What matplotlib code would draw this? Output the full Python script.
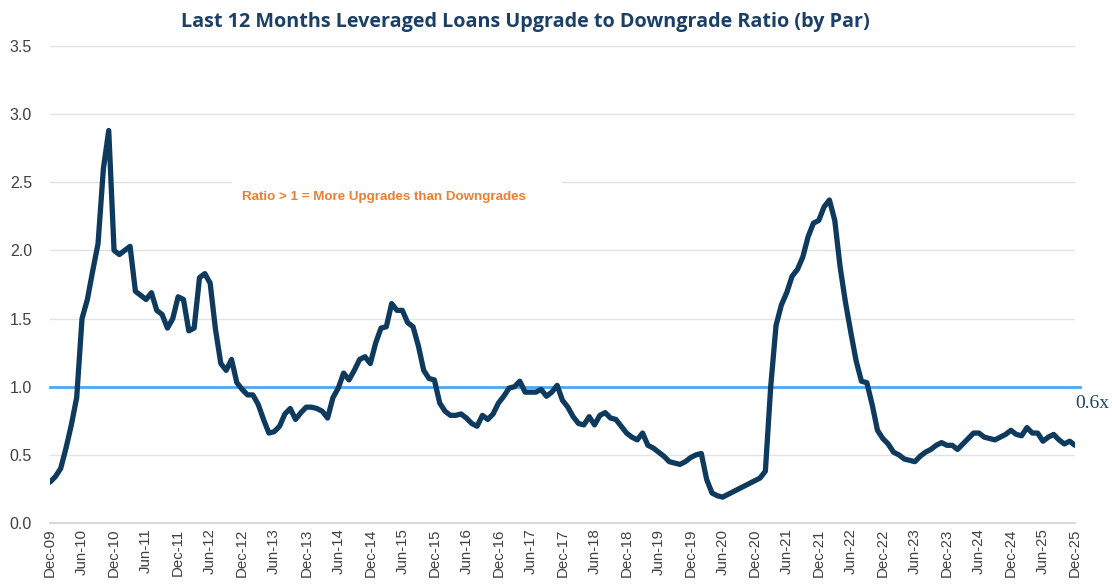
import matplotlib
matplotlib.use("Agg")
import matplotlib.pyplot as plt
from matplotlib.patches import Rectangle
import numpy as np

# Monthly ratio, Dec-09 .. Dec-25
ratio = [
    0.30, 0.34, 0.40, 0.55, 0.72, 0.92, 1.50, 1.64, 1.85, 2.05,   # Dec-09 .. Sep-10
    2.60, 2.88, 2.00, 1.97, 2.00, 2.03, 1.70, 1.67, 1.64, 1.69,   # Oct-10 .. Jul-11
    1.56, 1.53, 1.43, 1.50, 1.66, 1.64, 1.41, 1.43, 1.80, 1.83,   # Aug-11 .. May-12
    1.76, 1.42, 1.17, 1.12, 1.20, 1.03, 0.98, 0.94, 0.94, 0.87,   # Jun-12 .. Mar-13
    0.76, 0.66, 0.67, 0.71, 0.80, 0.84, 0.76, 0.81, 0.85, 0.85,   # Apr-13 .. Jan-14
    0.84, 0.82, 0.77, 0.92, 0.99, 1.10, 1.05, 1.12, 1.20, 1.22,   # Feb-14 .. Nov-14
    1.17, 1.32, 1.43, 1.44, 1.61, 1.56, 1.56, 1.47, 1.44, 1.30,   # Dec-14 .. Sep-15
    1.12, 1.06, 1.05, 0.88, 0.82, 0.79, 0.79, 0.80, 0.77, 0.73,   # Oct-15 .. Jul-16
    0.71, 0.79, 0.76, 0.80, 0.88, 0.93, 0.99, 1.00, 1.04, 0.96,   # Aug-16 .. May-17
    0.96, 0.96, 0.98, 0.93, 0.96, 1.01, 0.90, 0.85, 0.78, 0.73,   # Jun-17 .. Mar-18
    0.72, 0.78, 0.72, 0.79, 0.81, 0.77, 0.76, 0.71, 0.66, 0.63,   # Apr-18 .. Jan-19
    0.61, 0.66, 0.57, 0.55, 0.52, 0.49, 0.45, 0.44, 0.43, 0.45,   # Feb-19 .. Nov-19
    0.48, 0.50, 0.51, 0.32, 0.22, 0.20, 0.19, 0.21, 0.23, 0.25,   # Dec-19 .. Sep-20
    0.27, 0.29, 0.31, 0.33, 0.38, 1.00, 1.45, 1.60, 1.69, 1.81,   # Oct-20 .. Jul-21
    1.86, 1.95, 2.10, 2.20, 2.22, 2.32, 2.37, 2.22, 1.88, 1.62,   # Aug-21 .. May-22
    1.40, 1.19, 1.04, 1.03, 0.87, 0.68, 0.62, 0.58, 0.52, 0.50,   # Jun-22 .. Mar-23
    0.47, 0.46, 0.45, 0.49, 0.52, 0.54, 0.57, 0.59, 0.57, 0.57,   # Apr-23 .. Jan-24
    0.54, 0.58, 0.62, 0.66, 0.66, 0.63, 0.62, 0.61, 0.63, 0.65,   # Feb-24 .. Nov-24
    0.68, 0.65, 0.64, 0.70, 0.66, 0.66, 0.60, 0.63, 0.65, 0.61,   # Dec-24 .. Sep-25
    0.58, 0.60, 0.57,                                             # Oct-25 .. Dec-25
]

tick_labels = [
    "Dec-09", "Jun-10", "Dec-10", "Jun-11", "Dec-11", "Jun-12", "Dec-12",
    "Jun-13", "Dec-13", "Jun-14", "Dec-14", "Jun-15", "Dec-15", "Jun-16",
    "Dec-16", "Jun-17", "Dec-17", "Jun-18", "Dec-18", "Jun-19", "Dec-19",
    "Jun-20", "Dec-20", "Jun-21", "Dec-21", "Jun-22", "Dec-22", "Jun-23",
    "Dec-23", "Jun-24", "Dec-24", "Jun-25", "Dec-25",
]
y_ticks = [0.0, 0.5, 1.0, 1.5, 2.0, 2.5, 3.0, 3.5]
ref_level = 1.0
latest_label = "0.6x"
title = "Last 12 Months Leveraged Loans Upgrade to Downgrade Ratio (by Par)"
note = "Ratio > 1 = More Upgrades than Downgrades"

W, H = 1112, 585
fig = plt.figure(figsize=(W / 100, H / 100), dpi=100)
fig.patch.set_facecolor("white")
ax = fig.add_axes([50 / W, 1 - 523 / H, (1075 - 50) / W, (523 - 46) / H])

months = np.arange(len(ratio))
ax.plot(months, ratio, color="#0E3A5E", lw=3.8, solid_joinstyle="round",
        solid_capstyle="round", zorder=4)
ax.axhline(ref_level, xmin=0, xmax=1.005, color="#4AA8F4", lw=2.0,
           clip_on=False, zorder=3)

ax.set_xlim(0, len(ratio) - 1)
ax.set_ylim(0, 3.5)
ax.set_yticks(y_ticks)
ax.set_yticklabels([f"{v:.1f}" for v in y_ticks])
ax.set_xticks(np.arange(0, len(ratio), 6))
ax.set_xticklabels(tick_labels, rotation=90)

ax.yaxis.grid(True, color="#e2e2e2", lw=1.0)
ax.set_axisbelow(True)
for s in ["top", "right", "left"]:
    ax.spines[s].set_visible(False)
ax.spines["bottom"].set_color("#cfcfcf")
ax.spines["bottom"].set_linewidth(1.2)
ax.tick_params(axis="both", length=0)
ax.tick_params(axis="y", pad=13, labelsize=11.5, labelcolor="#404040")
ax.tick_params(axis="x", pad=4, labelsize=10.8, labelcolor="#404040")
for lab in ax.get_xticklabels() + ax.get_yticklabels():
    lab.set_family(["Liberation Sans", "DejaVu Sans"])

# white box behind note (interrupts the gridline)
ax.add_patch(Rectangle(((232 - 50) / 1025, (523 - 215) / 477), 330 / 1025, 45 / 477,
                       transform=ax.transAxes, facecolor="white", edgecolor="none",
                       zorder=1))
fig.text(384 / W, 1 - 197 / H, note, ha="center", va="center", fontsize=9.6,
         fontweight="bold", color="#ED7D31",
         family=["Liberation Sans Narrow", "Liberation Sans", "DejaVu Sans"])

fig.text(525 / W, 1 - 22 / H, title, ha="center", va="center", fontsize=14.2,
         fontweight="bold", color="#1B3F66", family=["Open Sans", "DejaVu Sans"])

fig.text(1075 / W, 1 - 404 / H, latest_label, ha="left", va="center", fontsize=14,
         color="#1F4466", family=["Liberation Serif", "DejaVu Serif"])

fig.savefig("out.png", dpi=100, facecolor="white")
